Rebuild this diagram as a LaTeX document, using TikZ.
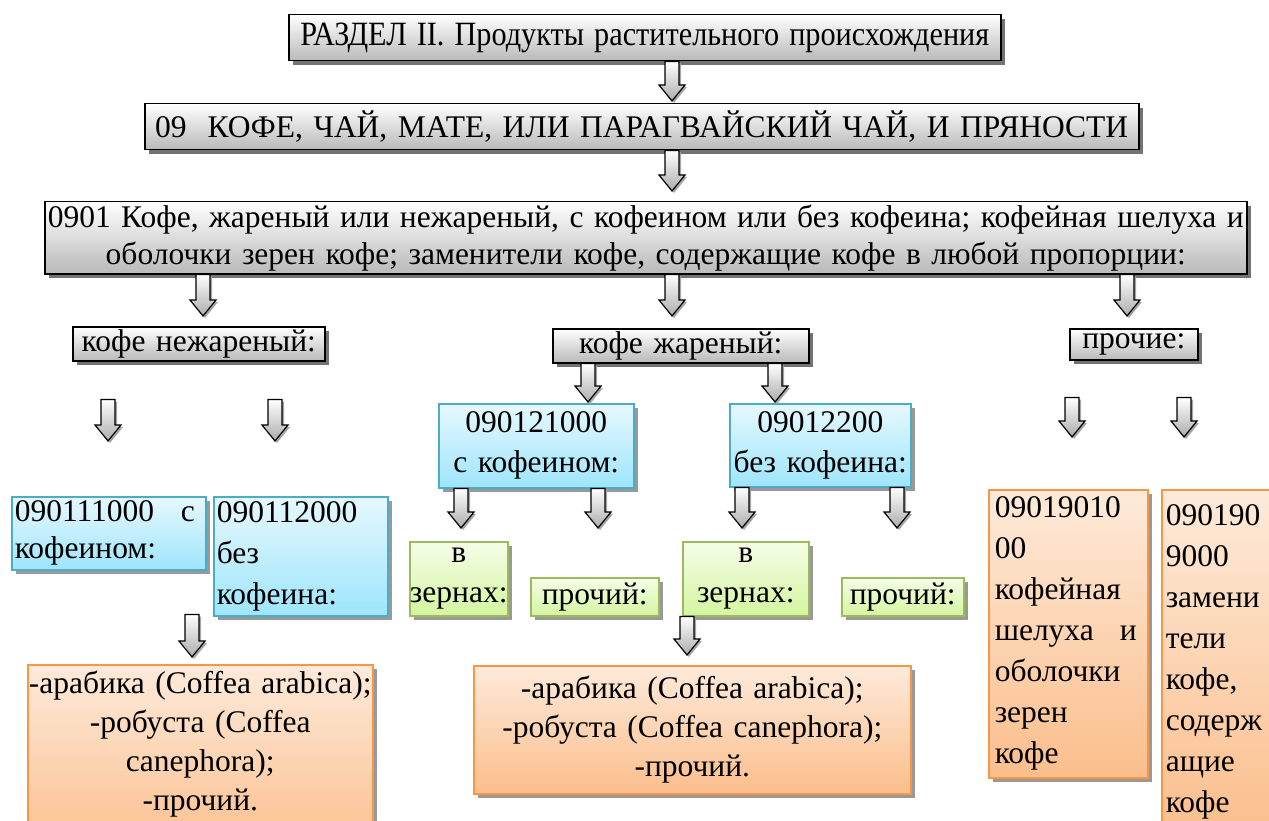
\documentclass[tikz,border=0pt]{standalone}
\usepackage{fontspec}
\setmainfont{Liberation Serif}
\usetikzlibrary{calc,shadows}
\definecolor{graybot}{RGB}{185,185,185}
\definecolor{bluetop}{RGB}{230,248,254}
\definecolor{bluebot}{RGB}{158,229,251}
\definecolor{blueline}{RGB}{75,172,198}
\definecolor{greentop}{RGB}{245,253,232}
\definecolor{greenbot}{RGB}{212,245,160}
\definecolor{greenline}{RGB}{155,187,89}
\definecolor{orangetop}{RGB}{253,234,218}
\definecolor{orangebot}{RGB}{251,190,140}
\definecolor{orangeline}{RGB}{247,150,70}

\tikzset{
  box/.style={anchor=north west, inner xsep=3pt, inner ysep=0pt,
    font=\fontsize{31.5}{40}\selectfont},
  graybox/.style={box, draw=black, line width=1.5pt, top color=white,
    bottom color=graybot,
    drop shadow={shadow xshift=4pt, shadow yshift=-4pt, fill=black!55, opacity=1}},
  bluebox/.style={box, draw=blueline, line width=1.5pt, top color=bluetop,
    bottom color=bluebot,
    drop shadow={shadow xshift=4pt, shadow yshift=-4pt, fill=black!40, opacity=1}},
  greenbox/.style={box, draw=greenline, line width=1.5pt, top color=greentop,
    bottom color=greenbot,
    drop shadow={shadow xshift=4pt, shadow yshift=-4pt, fill=black!40, opacity=1}},
  orangebox/.style={box, draw=orangeline, line width=1.5pt, top color=orangetop,
    bottom color=orangebot,
    drop shadow={shadow xshift=4pt, shadow yshift=-4pt, fill=black!40, opacity=1}},
  blockarr/.style={draw=black, line width=1.2pt, top color=white,
    bottom color=gray!65,
    drop shadow={shadow xshift=2pt, shadow yshift=-2pt, fill=black!35, opacity=1}}
}

% block arrow: x, from node, shift, to node, shift
\newcommand\barr[5]{%
  \coordinate (bx) at (#1,0);
  \path (bx |- #2) ++(0,#3) coordinate (ba1);
  \path (bx |- #4) ++(0,#5) coordinate (ba2);
  \draw[blockarr] ($(ba1)+(-7,0)$) -- ($(ba2)+(-7,-16)$) -- ($(ba2)+(-13,-16)$)
    -- (ba2) -- ($(ba2)+(13,-16)$) -- ($(ba2)+(7,-16)$) -- ($(ba1)+(7,0)$) -- cycle;
}

\begin{document}
\begin{tikzpicture}[x=1pt,y=-1pt]
\clip (0,0) rectangle (1269,821);

% top levels
\node[graybox, minimum height=46pt, text width=706pt, align=center] (razdel) at (288,14)
  {\scalebox{0.96}[1.08]{РАЗДЕЛ II. Продукты растительного происхождения}};
\node[graybox, minimum height=46pt, text width=988pt, align=center] (kofe09) at (144,103)
  {09\ \ КОФЕ, ЧАЙ, МАТЕ, ИЛИ ПАРАГВАЙСКИЙ ЧАЙ, И ПРЯНОСТИ};
\node[graybox, minimum height=72pt, text width=1196pt, align=center,
  font=\fontsize{31.5}{37}\selectfont] (k0901) at (44,201)
  {\makebox[\linewidth]{0901 Кофе, жареный или нежареный, с кофеином или без кофеина; кофейная шелуха и}\\
   оболочки зерен кофе; заменители кофе, содержащие кофе в любой пропорции:};

% groups
\node[graybox, minimum height=34pt, text width=246pt, align=center] (nezh) at (72,326)
  {кофе нежареный:};
\node[graybox, minimum height=34pt, text width=250pt, align=center] (zhar) at (552,328)
  {кофе жареный:};
\node[graybox, minimum height=31pt, text width=122pt, align=center] (proch) at (1069,328)
  {прочие:};

% blue boxes
\node[bluebox, minimum height=84pt, text width=189pt, align=center] (b121) at (438,403)
  {090121000\\с кофеином:};
\node[bluebox, minimum height=83pt, text width=175pt, align=center] (b122) at (729,403)
  {09012200\\\makebox[\linewidth]{без кофеина:}};
\node[bluebox, minimum height=73pt, text width=188pt, align=left,
  font=\fontsize{31.5}{37}\selectfont] (b111) at (11,496)
  {\makebox[180pt]{090111000\hfill с}\\кофеином:};
\node[bluebox, minimum height=119pt, text width=168pt, align=left,
  font=\fontsize{31.5}{41}\selectfont] (b112) at (213,496)
  {090112000\\без\\кофеина:};

% green boxes
\node[greenbox, minimum height=74pt, text width=92pt, align=center] (g1) at (409,541)
  {в\\\makebox[\linewidth]{зернах:}};
\node[greenbox, minimum height=38pt, text width=122pt, align=center] (g2) at (530,577)
  {прочий:};
\node[greenbox, minimum height=74pt, text width=120pt, align=center] (g3) at (682,541)
  {в\\зернах:};
\node[greenbox, minimum height=38pt, text width=116pt, align=center] (g4) at (841,577)
  {прочий:};

% orange boxes
\node[orangebox, minimum height=190pt, text width=339pt, align=center,
  font=\fontsize{31.5}{39}\selectfont] (oleft) at (27,664)
  {\makebox[\linewidth]{-арабика (Coffea arabica);}\\-робуста (Coffea\\canephora);\\-прочий.\\\mbox{}};
\node[orangebox, minimum height=128pt, text width=431pt, align=center,
  font=\fontsize{31.5}{39}\selectfont] (omid) at (473,665)
  {-арабика (Coffea arabica);\\-робуста (Coffea canephora);\\-прочий.};
\node[orangebox, inner xsep=6pt, minimum height=288pt, text width=147pt, align=left,
  font=\fontsize{31.5}{41}\selectfont] (o1901) at (988,489)
  {09019010\\00\\кофейная\\\makebox[142pt]{шелуха\hfill и}\\оболочки\\зерен\\кофе};
\node[orangebox, inner xsep=4pt, minimum height=345pt, text width=112pt, align=left,
  font=\fontsize{31.5}{41}\selectfont] (o1909) at (1161,489)
  {090190\\9000\\замени\\тели\\кофе,\\содерж\\ащие\\кофе};

% arrows
\barr{672}{razdel.south}{0}{kofe09.north}{-2}
\barr{672}{kofe09.south}{0}{k0901.north}{-10}
\barr{203}{k0901.south}{0}{nezh.north}{-10}
\barr{672}{k0901.south}{0}{zhar.north}{-12}
\barr{1127}{k0901.south}{0}{proch.north}{-12}
\barr{588}{zhar.south}{0}{b121.north}{-1}
\barr{775}{zhar.south}{0}{b122.north}{-1}
\barr{108}{nezh.south}{38}{b111.north}{-55}
\barr{275}{nezh.south}{38}{b112.north}{-55}
\barr{1072}{proch.south}{37}{o1901.north}{-52}
\barr{1184}{proch.south}{37}{o1909.north}{-52}
\barr{461}{b121.south}{0}{g1.north}{-13}
\barr{598}{b121.south}{0}{g2.north}{-49}
\barr{742}{b122.south}{0}{g3.north}{-13}
\barr{897}{b122.south}{0}{g4.north}{-49}
\barr{192}{b112.south}{-2}{oleft.north}{-7}
\barr{687}{g3.south}{0}{omid.north}{-10}
\end{tikzpicture}
\end{document}
